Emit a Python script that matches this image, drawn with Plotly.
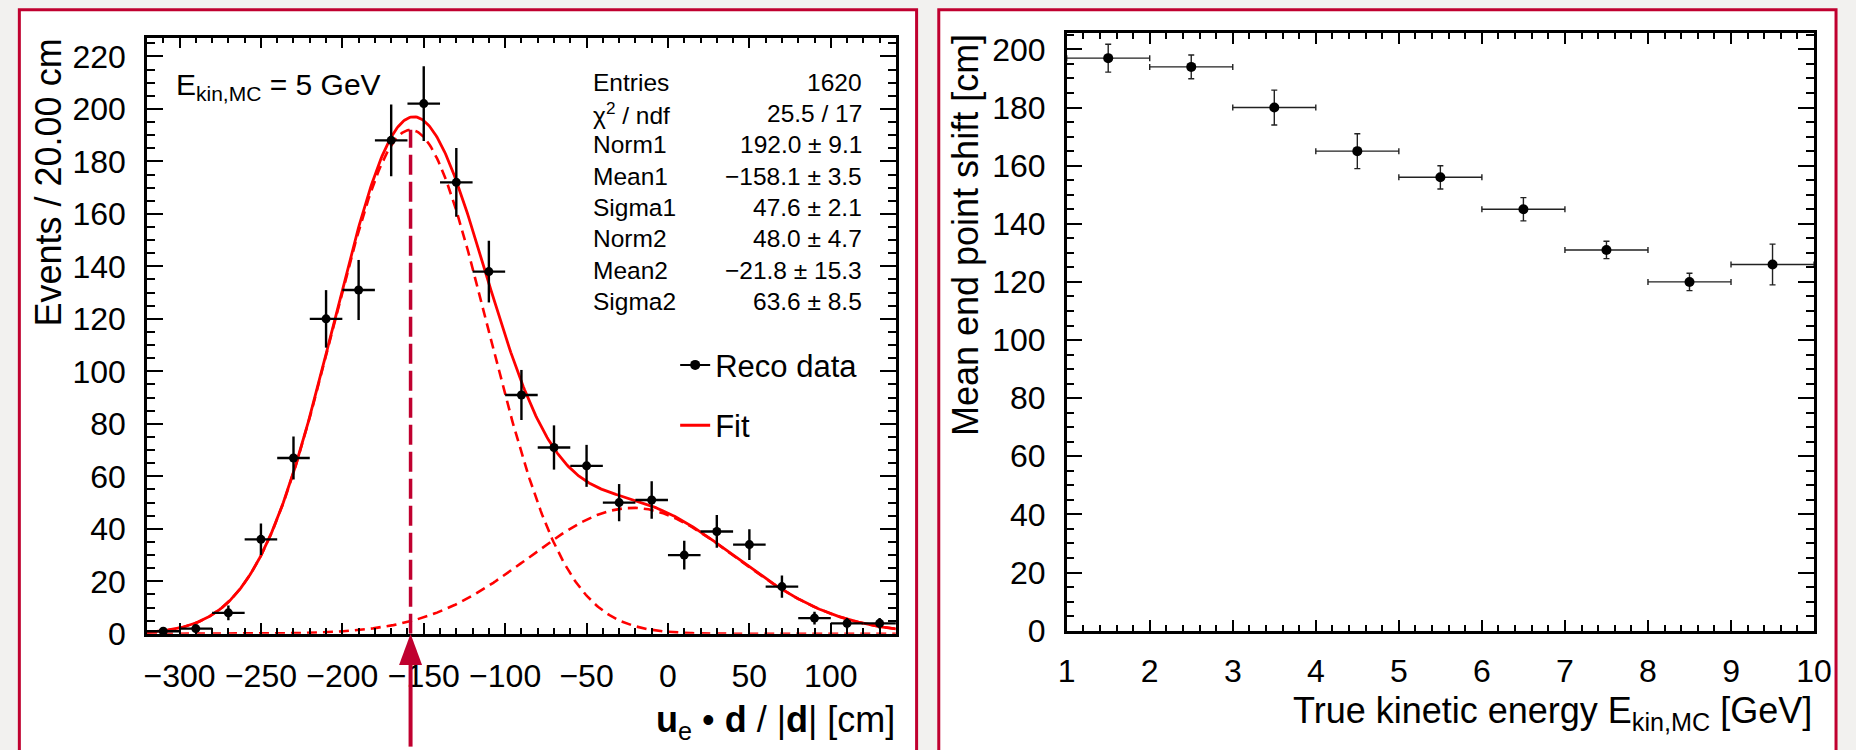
import numpy as np
import plotly.graph_objects as go

W, H = 1856, 750
FONT = "Liberation Sans, Arial, Helvetica, sans-serif"
CRIMSON = "#c0002f"


def fx(px):
    """horizontal pixel -> paper fraction"""
    return px / W


def fy(py):
    """vertical pixel (from top) -> paper fraction"""
    return 1.0 - py / H


# ---- left panel: projection of the reconstructed end point, E_kin = 5 GeV ----
BIN_WIDTH = 20.0
bin_centers = [-310, -290, -270, -250, -230, -210, -190, -170, -150, -130, -110, -90,
               -70, -50, -30, -10, 10, 30, 50, 70, 90, 110, 130]
counts = [1, 2, 8, 36, 67, 120, 131, 188, 202, 172, 138, 91,
          71, 64, 50, 51, 30, 39, 34, 18, 6, 4, 4]

# double-Gaussian fit result
fit_names = ["Norm1", "Mean1", "Sigma1", "Norm2", "Mean2", "Sigma2"]
fit_values = [192.0, -158.1, 47.6, 48.0, -21.8, 63.6]
fit_errors = [9.1, 3.5, 2.1, 4.7, 15.3, 8.5]
n_entries = 1620
chi2, ndf = 25.5, 17

# ---- right panel: mean end-point shift versus true kinetic energy ----
energy_centers = [1.5, 2.5, 3.5, 4.5, 5.5, 6.5, 7.5, 8.5, 9.5]
energy_half_width = 0.5
mean_shift = [197, 194, 180, 165, 156, 145, 131, 120, 126]
mean_shift_err = [4.8, 4.1, 6.0, 6.0, 4.0, 4.0, 3.0, 3.0, 7.0]

X_RANGE_L = [-320, 140]
Y_RANGE_L = [0, 227.1]
X_RANGE_R = [1, 10]
Y_RANGE_R = [0, 205.5]

norm1, mean1, sigma1, norm2, mean2, sigma2 = fit_values


def gauss(x, n, m, s):
    return n * np.exp(-0.5 * ((x - m) / s) ** 2)


xs = np.linspace(X_RANGE_L[0], X_RANGE_L[1], 600)
g1 = gauss(xs, norm1, mean1, sigma1)
g2 = gauss(xs, norm2, mean2, sigma2)

fig = go.Figure()

# fit components (dashed) and total fit (solid)
for comp in (g1, g2):
    fig.add_trace(go.Scatter(x=xs, y=comp, mode="lines", showlegend=False,
                             line=dict(color="red", width=2.6, dash="10px,6px"),
                             xaxis="x", yaxis="y", hoverinfo="skip"))
fig.add_trace(go.Scatter(x=xs, y=g1 + g2, mode="lines", showlegend=False,
                         line=dict(color="red", width=2.8),
                         xaxis="x", yaxis="y", hoverinfo="skip"))

# marker of the first Gaussian's mean
fig.add_trace(go.Scatter(x=[mean1, mean1], y=[0, norm1], mode="lines", showlegend=False,
                         line=dict(color=CRIMSON, width=3.5, dash="20px,7px"),
                         xaxis="x", yaxis="y", hoverinfo="skip"))

# histogram points with Poisson errors
fig.add_trace(go.Scatter(
    x=bin_centers, y=counts, mode="markers", showlegend=False,
    marker=dict(color="black", size=9),
    error_x=dict(type="constant", value=BIN_WIDTH / 2, color="black", thickness=2.4, width=0),
    error_y=dict(type="data", array=list(np.sqrt(counts)), color="black", thickness=2.4, width=0),
    xaxis="x", yaxis="y", cliponaxis=False))

# legend entries
fig.add_trace(go.Scatter(x=[None], y=[None], mode="lines+markers", name="Reco data",
                         legendgroup="data", line=dict(color="black", width=2),
                         marker=dict(color="black", size=10), xaxis="x", yaxis="y"))
fig.add_trace(go.Scatter(x=[None], y=[None], mode="lines", name="Fit",
                         legendgroup="fit", line=dict(color="red", width=3),
                         xaxis="x", yaxis="y"))

# right panel points
fig.add_trace(go.Scatter(
    x=energy_centers, y=mean_shift, mode="markers", showlegend=False,
    marker=dict(color="black", size=10),
    error_x=dict(type="constant", value=energy_half_width, color="#222", thickness=1.4, width=3),
    error_y=dict(type="data", array=mean_shift_err, color="#222", thickness=1.4, width=3),
    xaxis="x2", yaxis="y2", cliponaxis=False))

# ---- axes ----
L_X0, L_X1, L_Y0, L_Y1 = 140, 900, 649.3, 37.7
R_X0, R_X1, R_Y0, R_Y1 = 1073.3, 1831.7, 646.0, 33.3

tickfont = dict(family=FONT, size=32, color="black")


def axis(domain, rng, dtick, minor_dtick, ticklen, minorlen, anchor, standoff):
    return dict(domain=domain, range=rng, dtick=dtick, tick0=0, anchor=anchor,
                ticks="inside", ticklen=ticklen, tickwidth=2, tickcolor="black",
                minor=dict(ticks="inside", dtick=minor_dtick, tick0=0, ticklen=minorlen,
                           tickwidth=1.6, tickcolor="black", showgrid=False),
                showline=True, linewidth=2.5, linecolor="black", mirror="ticks",
                showgrid=False, zeroline=False, tickfont=tickfont,
                ticklabelstandoff=standoff, fixedrange=True)


layout = dict(
    width=W, height=H, margin=dict(l=0, r=0, t=0, b=0),
    paper_bgcolor="#f2f1ef", plot_bgcolor="white",
    font=dict(family=FONT, color="black"),
    xaxis=axis([fx(L_X0), fx(L_X1)], X_RANGE_L, 50, 10, 11, 6, "y", 12),
    yaxis=axis([fy(L_Y0), fy(L_Y1)], Y_RANGE_L, 20, 5, 16, 8, "x", 12),
    xaxis2=axis([fx(R_X0), fx(R_X1)], X_RANGE_R, 1, 0.2, 11, 6, "y2", 10),
    yaxis2=axis([fy(R_Y0), fy(R_Y1)], Y_RANGE_R, 20, 5, 16, 8, "x2", 12),
    legend=dict(x=fx(676), y=fy(346), xanchor="left", yanchor="top",
                font=dict(family=FONT, size=31, color="black"),
                bgcolor="rgba(0,0,0,0)", traceorder="grouped", tracegroupgap=17),
    showlegend=True,
)
fig.update_layout(**layout)

# ---- panel frames ----
shapes = [
    dict(type="rect", xref="paper", yref="paper", x0=fx(10.5), x1=fx(921), y0=-0.05, y1=fy(9),
         line=dict(color=CRIMSON, width=3), fillcolor="white", layer="below"),
    dict(type="rect", xref="paper", yref="paper", x0=fx(943.5), x1=fx(1854), y0=-0.05, y1=fy(9),
         line=dict(color=CRIMSON, width=3), fillcolor="white", layer="below"),
]

# arrow under the axis pointing at Mean1
tip = fy(L_Y0)
base = fy(L_Y0 + 32)
shapes.append(dict(type="path", xref="x", yref="paper", xsizemode="pixel", xanchor=mean1,
                   path=f"M-11.5,{base} L11.5,{base} L0,{tip} Z",
                   fillcolor=CRIMSON, line=dict(width=0), layer="above"))
shapes.append(dict(type="line", xref="x", yref="paper", xsizemode="pixel", xanchor=mean1,
                   x0=0, x1=0, y0=-0.02, y1=base + 0.002,
                   line=dict(color=CRIMSON, width=4), layer="above"))
fig.update_layout(shapes=shapes)

# ---- text ----
ann = []
title_font = dict(family=FONT, size=36, color="black")
ann.append(dict(text="Events / 20.00 cm", textangle=-90, xref="paper", yref="paper",
                x=fx(40), y=fy(36), xanchor="center", yanchor="top", showarrow=False,
                font=title_font))
ann.append(dict(text="<b>u</b><sub>e</sub> • <b>d</b> / |<b>d</b>| [cm]", xref="paper", yref="paper",
                x=fx(901), y=fy(714), xanchor="right", yanchor="top", showarrow=False,
                font=title_font))
ann.append(dict(text="Mean end point shift [cm]", textangle=-90, xref="paper", yref="paper",
                x=fx(970), y=fy(32), xanchor="center", yanchor="top", showarrow=False,
                font=title_font))
ann.append(dict(text="True kinetic energy E<sub>kin,MC</sub> [GeV]", xref="paper", yref="paper",
                x=fx(1832), y=fy(705), xanchor="right", yanchor="top", showarrow=False,
                font=title_font))
ann.append(dict(text="E<sub>kin,MC</sub> = 5 GeV", xref="paper", yref="paper",
                x=fx(167), y=fy(88), xanchor="left", yanchor="middle", showarrow=False,
                font=dict(family=FONT, size=30, color="black")))

# fit statistics box
stat_labels = ["Entries", "χ<sup>2</sup> / ndf"] + fit_names


def fmt(v):
    return f"{v:.1f}".replace("-", "−")


stat_values = [f"{n_entries}", f"{chi2:.1f} / {ndf}"] + \
    [f"{fmt(v)} ± {e:.1f}" for v, e in zip(fit_values, fit_errors)]
row0, row_step = 83.3, 32.14
stat_font = dict(family=FONT, size=24.5, color="black")
for i, (lab, val) in enumerate(zip(stat_labels, stat_values)):
    yc = fy(row0 + i * row_step)
    ann.append(dict(text=lab, xref="paper", yref="paper", x=fx(591), y=yc,
                    xanchor="left", yanchor="middle", showarrow=False, font=stat_font))
    ann.append(dict(text=val, xref="paper", yref="paper", x=fx(868), y=yc,
                    xanchor="right", yanchor="middle", showarrow=False, font=stat_font))

fig.update_layout(annotations=ann)

fig.write_html("out.html")
